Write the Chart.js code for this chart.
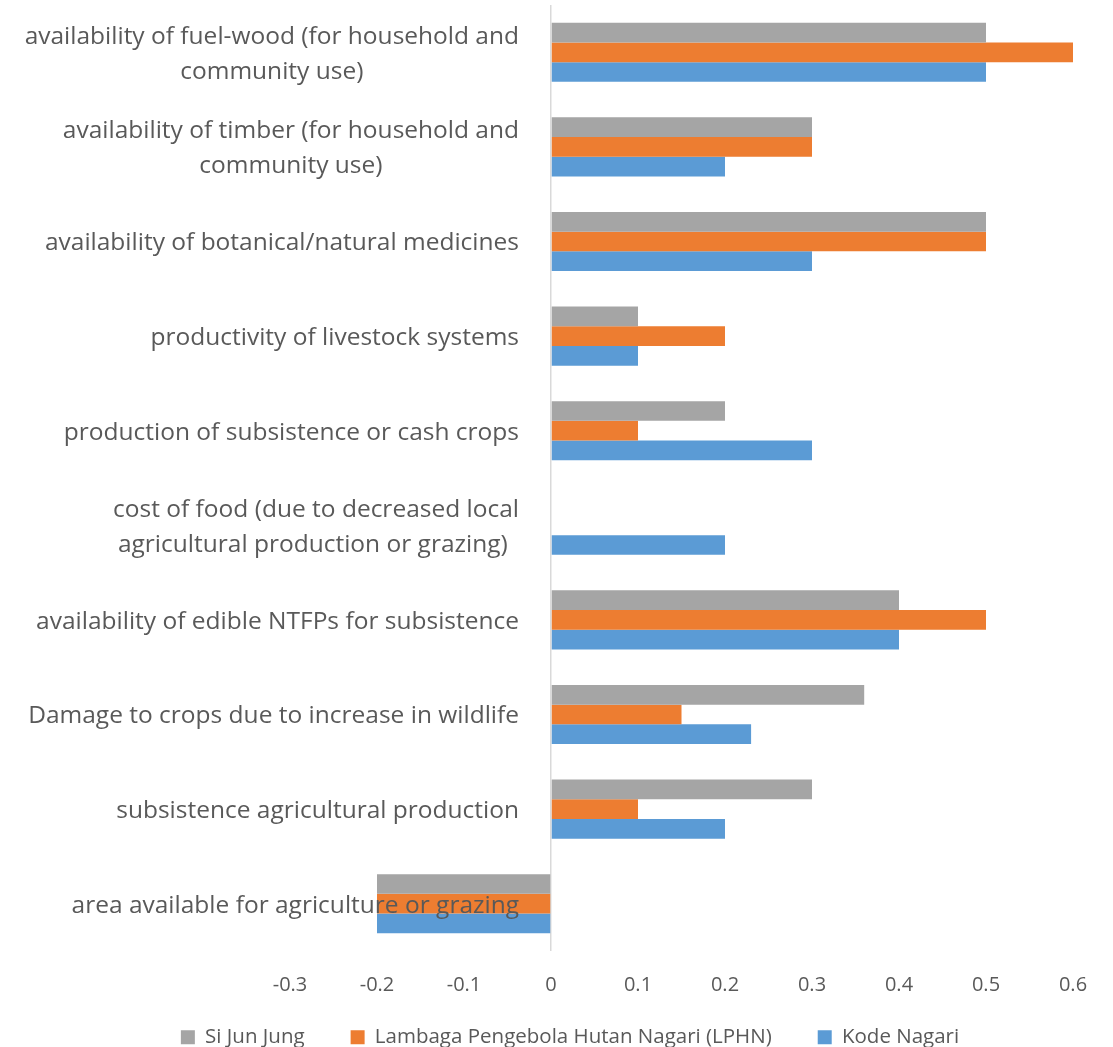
<!DOCTYPE html>
<html>
<head>
<meta charset="utf-8">
<script src="https://cdn.jsdelivr.net/npm/chart.js@4.4.1/dist/chart.umd.min.js"></script>
<style>
  html, body { margin: 0; padding: 0; background: #ffffff; }
  #wrap { width: 1113px; height: 1047px; position: relative; }
</style>
</head>
<body>
<div id="wrap"><canvas id="chart"></canvas></div>
<script>
// Categories, top to bottom (multi-line labels as arrays)
const categories = [
  ["availability of fuel-wood (for household and", "community use)"],
  ["availability of timber (for household and", "community use)"],
  ["availability of botanical/natural medicines"],
  ["productivity of livestock systems"],
  ["production of subsistence or cash crops"],
  ["cost of food (due to decreased local", "agricultural production or grazing) "],
  ["availability of edible NTFPs for subsistence"],
  ["Damage to crops due to increase in wildlife"],
  ["subsistence agricultural production"],
  ["area available for agriculture or grazing"]
];

const seriesNames = ["Si Jun Jung", "Lambaga Pengebola Hutan Nagari (LPHN)", "Kode Nagari"];
const siJunJung  = [0.5, 0.3, 0.5, 0.1, 0.2, 0,   0.4, 0.36, 0.3, -0.2];
const lphn       = [0.6, 0.3, 0.5, 0.2, 0.1, 0,   0.5, 0.15, 0.1, -0.2];
const kodeNagari = [0.5, 0.2, 0.3, 0.1, 0.3, 0.2, 0.4, 0.23, 0.2, -0.2];

const xTickValues = [-0.3, -0.2, -0.1, 0, 0.1, 0.2, 0.3, 0.4, 0.5, 0.6];

const FONT = "'Open Sans', 'Liberation Sans', sans-serif";
const TEXT = '#595959';

// Category labels sit just left of the zero line, lines centred on each other
const categoryLabels = {
  id: 'categoryLabels',
  afterDatasetsDraw(chart) {
    const { ctx, scales: { x, y } } = chart;
    const right = x.getPixelForValue(0) - 32;
    const lineH = 35;
    ctx.save();
    ctx.font = '24.5px ' + FONT;
    ctx.fillStyle = TEXT;
    ctx.textBaseline = 'middle';
    ctx.textAlign = 'center';
    categories.forEach((lines, i) => {
      const cy = y.getPixelForValue(i) + 2;
      const w = Math.max(...lines.map(l => ctx.measureText(l).width));
      const cx = right - w / 2;
      const top = cy - (lines.length - 1) * lineH / 2;
      lines.forEach((l, k) => ctx.fillText(l, cx, top + k * lineH));
    });
    ctx.restore();
  }
};

// The value axis is laid out compactly; let its tick labels spill into the
// empty space above the legend rows instead of being clipped.
const valueAxisOverflow = {
  id: 'valueAxisOverflow',
  afterLayout(chart) {
    chart.scales.x.bottom = chart.height;
  }
};

new Chart(document.getElementById('chart'), {
  type: 'bar',
  data: {
    labels: categories.map(c => c.join(' ')),
    datasets: [
      { label: seriesNames[0], data: siJunJung,  backgroundColor: '#A5A5A5' },
      { label: seriesNames[1], data: lphn,       backgroundColor: '#ED7D31' },
      { label: seriesNames[2], data: kodeNagari, backgroundColor: '#5B9BD5' }
    ]
  },
  options: {
    indexAxis: 'y',
    responsive: true,
    maintainAspectRatio: false,
    animation: false,
    datasets: { bar: { categoryPercentage: 0.625, barPercentage: 1.0, borderWidth: 0 } },
    layout: { padding: { left: 67, right: 40, top: 5, bottom: 0 } },
    scales: {
      x: {
        min: -0.3,
        max: 0.6,
        afterBuildTicks(scale) { scale.ticks = xTickValues.map(v => ({ value: v })); },
        afterFit(scale) { scale.height = 30; },
        grid: {
          drawTicks: false,
          color: c => (c.tick && c.tick.value === 0) ? '#D9D9D9' : 'rgba(0,0,0,0)',
          lineWidth: 1.5
        },
        border: { display: false },
        ticks: {
          padding: 22,
          color: TEXT,
          font: { family: FONT, size: 20 },
          callback: v => String(Math.round(v * 10) / 10)
        }
      },
      y: {
        display: true,
        grid: { display: false },
        border: { display: false },
        ticks: { display: false },
        afterFit(scale) { scale.width = 223; }
      }
    },
    plugins: {
      legend: {
        position: 'bottom',
        maxHeight: 66,
        labels: {
          color: TEXT,
          font: { family: FONT, size: 20.5 },
          boxWidth: 14,
          boxHeight: 14,
          padding: 46
        }
      },
      tooltip: { enabled: false }
    }
  },
  plugins: [categoryLabels, valueAxisOverflow]
});
</script>
</body>
</html>
